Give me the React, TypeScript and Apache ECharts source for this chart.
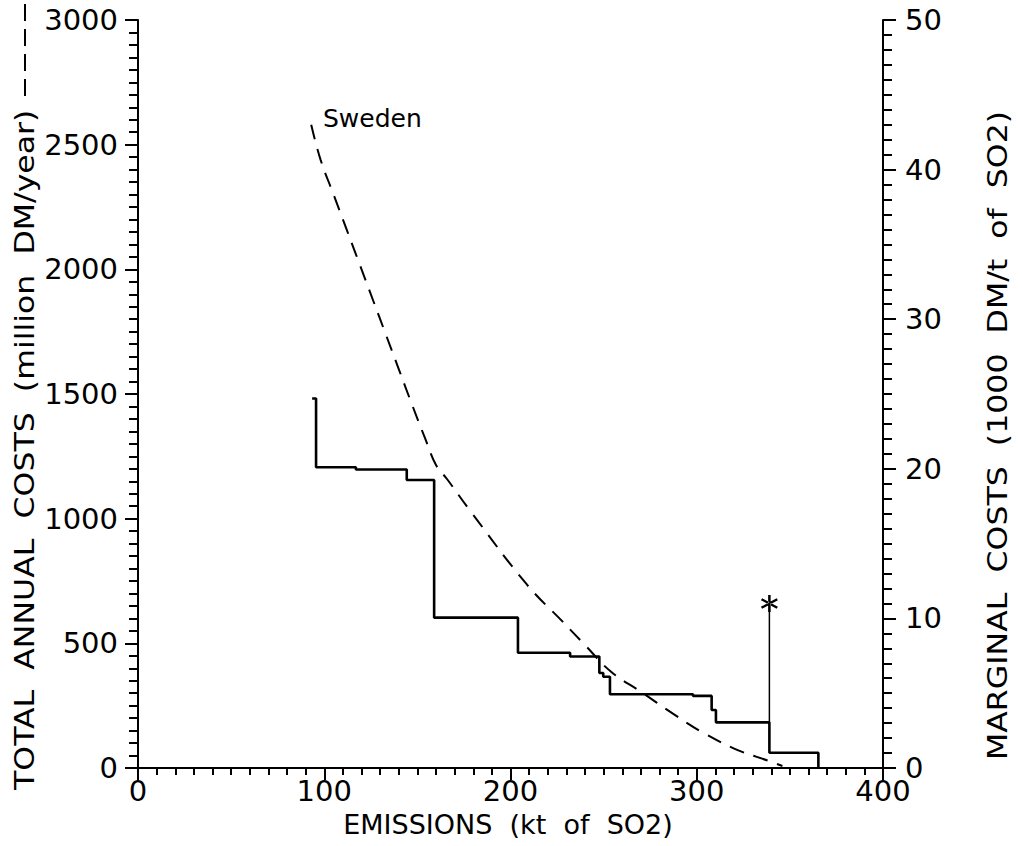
import React, { useEffect, useRef } from "react";
import * as echarts from "echarts";

// Total annual abatement cost curve for Sweden (million DM/year) vs emissions (kt SO2)
const totalCostEmissions = [93, 98, 105, 112, 119, 126, 133, 140, 147, 154, 160, 166, 178, 209, 228, 240, 254, 270, 287, 304, 322, 338, 346];
const totalCostValues = [2580, 2440, 2300, 2160, 2020, 1880, 1740, 1600, 1460, 1325, 1215, 1158, 1035, 734, 587, 493, 386, 306, 219, 139, 72, 30, 8];

// Marginal cost step function corners (1000 DM/t SO2)
const marginalEmissions = [93.5, 95.6, 95.6, 117, 117, 144.3, 144.3, 159, 159, 204, 204, 232, 232, 247.7, 247.7, 249.8, 249.8, 253.4, 253.4, 298, 298, 308, 308, 310.3, 310.3, 339, 339, 365.3, 365.3];
const marginalValues = [24.7, 24.7, 20.1, 20.1, 19.95, 19.95, 19.25, 19.25, 10.05, 10.05, 7.7, 7.7, 7.45, 7.45, 6.35, 6.35, 6.1, 6.1, 4.93, 4.93, 4.82, 4.82, 3.88, 3.88, 3.05, 3.05, 1.02, 1.02, 0];

// Current-situation spike with asterisk marker
const spikeEmissions = [339, 339];
const spikeValues = [3.05, 11.0];

const xTicks = { min: 0, max: 400, interval: 100 };
const leftTicks = { min: 0, max: 3000, interval: 500 };
const rightTicks = { min: 0, max: 50, interval: 10 };

const FONT = "DejaVu Sans";

const asteriskPath =
  "path://M-1.3,-10L1.3,-10L1.3,10L-1.3,10Z" +
  "M7.53,-6.13L8.83,-3.87L-7.53,6.13L-8.83,3.87Z" +
  "M-7.53,-6.13L-8.83,-3.87L7.53,6.13L8.83,3.87Z";

export default function App() {
  const ref = useRef<HTMLDivElement>(null);

  useEffect(() => {
    if (!ref.current) return;
    const chart = echarts.init(ref.current, undefined, { renderer: "svg" });

    const labelStyle = {
      color: "#000",
      fontFamily: FONT,
      fontSize: 29,
      lineHeight: 22,
      formatter: (v: number) => String(v),
    };
    const axisLine = { show: true, lineStyle: { color: "#000", width: 2 } };
    const titleFont = `27px "${FONT}"`;

    const option: echarts.EChartsOption = {
      animation: false,
      backgroundColor: "#fff",
      grid: { left: 138, right: 139, top: 20, bottom: 78, containLabel: false },
      xAxis: {
        type: "value",
        min: xTicks.min,
        max: xTicks.max,
        interval: xTicks.interval,
        axisLine,
        axisTick: { show: true, inside: false, length: 12, lineStyle: { color: "#000", width: 2 } },
        minorTick: { show: true, splitNumber: 10, length: 7, lineStyle: { color: "#000", width: 2 } },
        splitLine: { show: false },
        minorSplitLine: { show: false },
        axisLabel: { ...labelStyle, margin: 12 },
      },
      yAxis: [
        {
          type: "value",
          position: "left",
          min: leftTicks.min,
          max: leftTicks.max,
          interval: leftTicks.interval,
          axisLine,
          axisTick: { show: true, inside: false, length: 13, lineStyle: { color: "#000", width: 2 } },
          minorTick: { show: true, splitNumber: 10, length: 9, lineStyle: { color: "#000", width: 2 } },
          splitLine: { show: false },
          axisLabel: { ...labelStyle, margin: 20 },
        },
        {
          type: "value",
          position: "right",
          min: rightTicks.min,
          max: rightTicks.max,
          interval: rightTicks.interval,
          axisLine,
          axisTick: { show: true, inside: false, length: 13, lineStyle: { color: "#000", width: 2 } },
          minorTick: { show: true, splitNumber: 10, length: 9, lineStyle: { color: "#000", width: 2 } },
          splitLine: { show: false },
          axisLabel: { ...labelStyle, margin: 22 },
        },
      ],
      series: [
        {
          name: "Sweden total cost",
          type: "line",
          yAxisIndex: 0,
          smooth: 0.4,
          showSymbol: false,
          lineStyle: { color: "#000", width: 2, type: [15, 10] },
          data: totalCostEmissions.map((e, i) => [e, totalCostValues[i]]),
        },
        {
          name: "Marginal cost",
          type: "line",
          yAxisIndex: 1,
          showSymbol: false,
          lineStyle: { color: "#000", width: 2.6 },
          data: marginalEmissions.map((e, i) => [e, marginalValues[i]]),
        },
        {
          name: "Current",
          type: "line",
          yAxisIndex: 1,
          symbol: "none",
          lineStyle: { color: "#000", width: 1.5 },
          data: spikeEmissions.map((e, i) => [e, spikeValues[i]]),
          markPoint: {
            symbol: asteriskPath,
            symbolSize: 17,
            itemStyle: { color: "#000" },
            label: { show: false },
            data: [{ coord: [spikeEmissions[1], spikeValues[1]] }],
          },
        },
      ],
      graphic: [
        {
          type: "text",
          x: 25,
          y: 790,
          rotation: Math.PI / 2,
          scaleX: 1.17,
          style: {
            text: "TOTAL  ANNUAL  COSTS  (million  DM/year)",
            fill: "#000",
            font: titleFont,
            align: "left",
            verticalAlign: "middle",
          },
        },
        {
          type: "line",
          shape: { x1: 25, y1: 96, x2: 25, y2: 4 },
          style: { stroke: "#000", lineWidth: 2, lineDash: [17, 8] },
        },
        {
          type: "text",
          x: 998,
          y: 760,
          rotation: Math.PI / 2,
          scaleX: 1.17,
          style: {
            text: "MARGINAL  COSTS  (1000  DM/t  of  SO2)",
            fill: "#000",
            font: titleFont,
            align: "left",
            verticalAlign: "middle",
          },
        },
        {
          type: "text",
          x: 508,
          y: 824,
          style: {
            text: "EMISSIONS  (kt  of  SO2)",
            fill: "#000",
            font: titleFont,
            align: "center",
            verticalAlign: "middle",
          },
        },
        {
          type: "text",
          x: 323,
          y: 118,
          style: {
            text: "Sweden",
            fill: "#000",
            font: `25px "${FONT}"`,
            align: "left",
            verticalAlign: "middle",
          },
        },
      ],
    };

    chart.setOption(option);
    return () => chart.dispose();
  }, []);

  return (
    <div
      ref={ref}
      style={{ position: "fixed", left: 0, top: 0, width: 1022, height: 846, background: "#fff" }}
    />
  );
}
